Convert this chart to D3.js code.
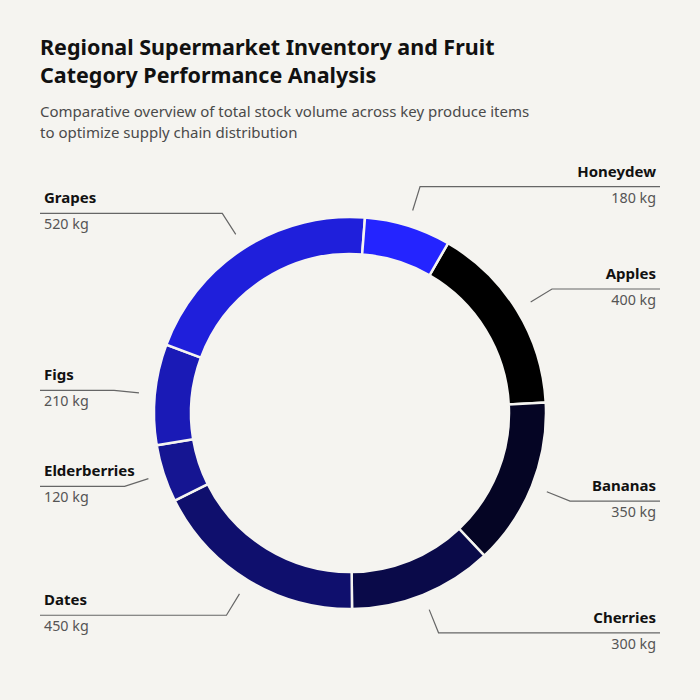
<!DOCTYPE html>
<html>
<head>
<meta charset="utf-8">
<script src="https://cdn.jsdelivr.net/npm/d3@7/dist/d3.min.js"></script>
<style>
  html, body { margin: 0; padding: 0; background: #f5f4f0; }
  svg { display: block; font-family: "Noto Sans", sans-serif; }
</style>
</head>
<body>
<div id="chart"></div>
<script>
// data
var fruits = ['Apples', 'Bananas', 'Cherries', 'Dates', 'Elderberries', 'Figs', 'Grapes', 'Honeydew']
var stock = [400, 350, 300, 450, 120, 210, 520, 180]
var unit = 'kg'
var titleLines = ['Regional Supermarket Inventory and Fruit', 'Category Performance Analysis']
var subtitleLines = ['Comparative overview of total stock volume across key produce items', 'to optimize supply chain distribution']

var width = 700, height = 700
var cx = 350, cy = 413
var outerR = 196, innerR = 159

var svg = d3.select('#chart').append('svg')
  .attr('width', width)
  .attr('height', height)

svg.append('rect').attr('width', width).attr('height', height).attr('fill', '#f5f4f0')

// title + subtitle
svg.append('g').selectAll('text')
  .data(titleLines)
  .enter().append('text')
    .attr('x', 40)
    .attr('y', function(d, i){ return 55 + i * 27.5 })
    .attr('font-size', '21.5px')
    .attr('font-weight', 700)
    .attr('fill', '#111')
    .text(function(d){ return d })

svg.append('g').selectAll('text')
  .data(subtitleLines)
  .enter().append('text')
    .attr('x', 40)
    .attr('y', function(d, i){ return 117 + i * 21 })
    .attr('font-size', '15px')
    .attr('fill', '#4a4a4a')
    .text(function(d){ return d })

var rows = fruits.map(function(f, i){ return {name: f, value: stock[i], idx: i} })

var colour = d3.scaleLinear()
  .domain([0, fruits.length - 1])
  .range(['#000000', '#2424ff'])

var offset = Math.PI / 6
var pie = d3.pie()
  .sort(null)
  .value(function(d){ return d.value })
  .startAngle(offset)
  .endAngle(offset + 2 * Math.PI)

var arcs = pie(rows)

var arc = d3.arc().innerRadius(innerR).outerRadius(outerR)

var g = svg.append('g').attr('transform', 'translate(' + cx + ',' + cy + ')')

g.selectAll('path.slice')
  .data(arcs)
  .enter().append('path')
    .attr('class', 'slice')
    .attr('d', arc)
    .attr('fill', function(d){ return colour(d.data.idx) })
    .attr('stroke', '#f5f4f0')
    .attr('stroke-width', 2.5)

// leader lines + labels
var r1 = outerR + 16, r2 = outerR + 41
function polar(a, r) { return [r * Math.sin(a), -r * Math.cos(a)] }

var labels = g.selectAll('g.label')
  .data(arcs)
  .enter().append('g')
    .attr('class', 'label')

labels.each(function(d){
  var mid = (d.startAngle + d.endAngle) / 2
  var right = Math.sin(mid) > 0
  var p1 = polar(mid, r1), p2 = polar(mid, r2)
  var endX = right ? 660 - cx : 40 - cx
  var textX = right ? endX - 4 : endX + 4
  var sel = d3.select(this)

  sel.append('polyline')
    .attr('points', [p1, p2, [endX, p2[1]]].map(function(p){ return p.join(',') }).join(' '))
    .attr('fill', 'none')
    .attr('stroke', '#666')
    .attr('stroke-width', 1.2)

  sel.append('text')
    .attr('x', textX)
    .attr('y', p2[1] - 10)
    .attr('text-anchor', right ? 'end' : 'start')
    .attr('font-size', '15px')
    .attr('font-weight', 700)
    .attr('fill', '#111')
    .text(d.data.name)

  sel.append('text')
    .attr('x', textX)
    .attr('y', p2[1] + 16)
    .attr('text-anchor', right ? 'end' : 'start')
    .attr('font-size', '14.3px')
    .attr('fill', '#555')
    .text(d.data.value + ' ' + unit)
})
</script>
</body>
</html>
